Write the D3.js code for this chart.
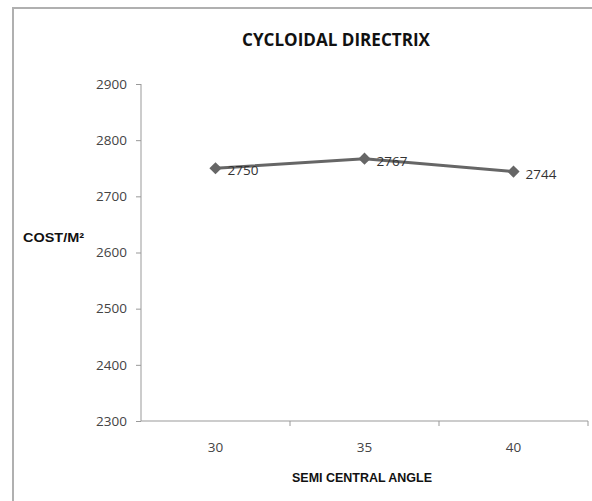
<!DOCTYPE html>
<html>
<head>
<meta charset="utf-8">
<script src="https://cdn.jsdelivr.net/npm/d3@7"></script>
<style>
  body { margin: 0; background: #fff; }
  svg { display: block; }
</style>
</head>
<body>
<svg width="592" height="501"></svg>
<script>
// data
const angles = ["30", "35", "40"];
const costs = [2750, 2767, 2744];
const yTicks = [2300, 2400, 2500, 2600, 2700, 2800, 2900];

const svg = d3.select("svg");

// outer chart frame (runs off the right and bottom edges)
svg.append("rect")
  .attr("x", 13).attr("y", 8)
  .attr("width", 600).attr("height", 520)
  .attr("fill", "none")
  .attr("stroke", "#b0b0b0")
  .attr("stroke-width", 2);

const plotL = 141, plotR = 588, plotT = 84, plotB = 421;

const x = d3.scaleBand()
  .domain(angles)
  .range([plotL, plotR]);

const y = d3.scaleLinear()
  .domain([2300, 2900])
  .range([plotB, plotT]);

// Y axis
const yAxis = svg.append("g")
  .attr("transform", "translate(" + plotL + ",0)")
  .call(d3.axisLeft(y).tickValues(yTicks).tickSize(5).tickPadding(9).tickFormat(d3.format("d")));
yAxis.select(".domain").attr("stroke", "#999").attr("d", "M0," + plotT + "V" + plotB);
yAxis.selectAll(".tick line").attr("stroke", "#999");
yAxis.selectAll(".tick text")
  .attr("fill", "#444")
  .style("font-family", "'Open Sans', sans-serif")
  .style("font-size", "13.5px");

// X axis
const xAxis = svg.append("g")
  .attr("transform", "translate(0," + plotB + ")")
  .call(d3.axisBottom(x).tickSize(0).tickPadding(21));
xAxis.select(".domain").attr("stroke", "#999").attr("d", "M" + plotL + ",0H" + plotR);
xAxis.selectAll(".tick text")
  .attr("fill", "#444")
  .style("font-family", "'Open Sans', sans-serif")
  .style("font-size", "13.5px");

// x tick marks at band edges
const edges = angles.slice(1).map(a => x(a)).concat([plotR]);
svg.append("g")
  .selectAll("line")
  .data(edges)
  .enter()
  .append("line")
  .attr("x1", d => d)
  .attr("x2", d => d)
  .attr("y1", plotB)
  .attr("y2", plotB + 5)
  .attr("stroke", "#999");

// line
const pts = angles.map((a, i) => ({a: a, v: costs[i]}));
const cx = d => x(d.a) + x.bandwidth() / 2;

svg.append("path")
  .datum(pts)
  .attr("fill", "none")
  .attr("stroke", "#666")
  .attr("stroke-width", 3)
  .attr("d", d3.line().x(cx).y(d => y(d.v)));

// diamond markers
svg.append("g")
  .selectAll("path")
  .data(pts)
  .enter()
  .append("path")
  .attr("transform", d => "translate(" + cx(d) + "," + y(d.v) + ")")
  .attr("d", d3.symbol().type(d3.symbolDiamond2).size(95))
  .attr("fill", "#666");

// data labels
svg.append("g")
  .selectAll("text")
  .data(pts)
  .enter()
  .append("text")
  .attr("x", d => cx(d) + 12)
  .attr("y", d => y(d.v) + 7)
  .attr("fill", "#333")
  .style("font-family", "'Open Sans', sans-serif")
  .style("font-size", "13.5px")
  .text(d => d.v);

// title
svg.append("text")
  .attr("x", 336).attr("y", 46)
  .attr("text-anchor", "middle")
  .attr("textLength", 188)
  .attr("lengthAdjust", "spacingAndGlyphs")
  .style("font-family", "'Open Sans', sans-serif")
  .style("font-weight", "bold")
  .style("font-size", "17px")
  .attr("fill", "#111")
  .text("CYCLOIDAL DIRECTRIX");

// axis titles
svg.append("text")
  .attr("x", 23).attr("y", 242)
  .attr("textLength", 61)
  .attr("lengthAdjust", "spacingAndGlyphs")
  .style("font-family", "'Liberation Sans', Arial, sans-serif")
  .style("font-weight", "bold")
  .style("font-size", "13px")
  .attr("fill", "#111")
  .text("COST/M²");

svg.append("text")
  .attr("x", 362).attr("y", 482)
  .attr("text-anchor", "middle")
  .attr("textLength", 140)
  .attr("lengthAdjust", "spacingAndGlyphs")
  .style("font-family", "'Liberation Sans', Arial, sans-serif")
  .style("font-weight", "bold")
  .style("font-size", "13px")
  .attr("fill", "#111")
  .text("SEMI CENTRAL  ANGLE");
</script>
</body>
</html>
